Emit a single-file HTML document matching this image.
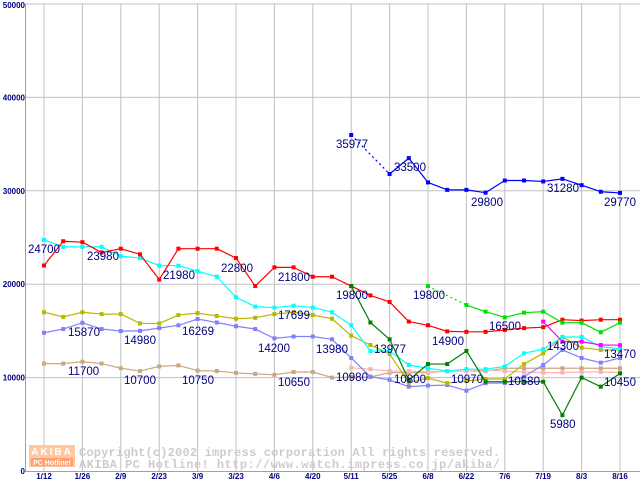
<!DOCTYPE html>
<html><head><meta charset="utf-8"><style>
html,body{margin:0;padding:0;background:#fff;}
svg{display:block;}
</style></head><body>
<svg id="chart" width="640" height="480" viewBox="0 0 640 480" xmlns="http://www.w3.org/2000/svg" font-family="Liberation Sans, sans-serif">
<g id="grid"></g>
<g id="wm">
  <rect x="29" y="445" width="46" height="22" fill="#ffc8a0"/>
  <text x="52" y="455" text-anchor="middle" font-size="10" font-weight="bold" fill="#fff" letter-spacing="2">AKIBA</text>
  <rect x="31" y="458" width="42" height="8" fill="#ffa070"/>
  <text x="52" y="465" text-anchor="middle" font-size="7" font-weight="bold" fill="#fff">PC Hotline!</text>
  <text x="79" y="456" font-family="Liberation Mono, monospace" font-size="12" font-weight="bold" fill="#cccccc" textLength="421" lengthAdjust="spacing">Copyright(c)2002 impress corporation All rights reserved.</text>
  <text x="79" y="468" font-family="Liberation Mono, monospace" font-size="12" font-weight="bold" fill="#cccccc" textLength="421" lengthAdjust="spacing">AKIBA PC Hotline!  http://www.watch.impress.co.jp/akiba/</text>
</g>
<g id="series"></g>
<g id="labels"></g>
</svg>
<script>
const xLabels = ["1/12","1/26","2/9","2/23","3/9","3/23","4/6","4/20","5/11","5/25","6/8","6/22","7/6","7/19","8/3","8/16"];
const yTicks = [0,10000,20000,30000,40000,50000];
const N = 31;
const _ = null;
const redVals = [22000,24600,24500,23400,23800,23200,20500,23800,23800,23800,22800,19800,21800,21800,20800,20800,19800,18800,18100,16000,15600,14950,14900,14900,15100,15300,15400,16200,16100,16200,16200];
const cyanVals = [24750,24000,24000,24000,23000,22800,22000,21980,21400,20800,18600,17600,17500,17700,17500,17000,15600,12850,12850,11350,11000,10700,10900,10900,11200,12600,13050,14350,14350,13300,13100];
const oliveVals = [17000,16500,17000,16800,16800,15800,15800,16700,16900,16600,16300,16400,16800,17000,16700,16300,14490,13490,12530,9450,9950,9400,9640,9850,9850,11450,12600,14350,13200,12960,12960];
const purpleVals = [14800,15200,15870,15200,14980,15000,15300,15600,16269,15900,15500,15200,14200,14400,14400,14100,12100,10100,9750,9030,9140,9200,8600,9400,9420,10100,11350,12960,12100,11600,12100];
const tanVals = [11500,11500,11700,11500,11000,10700,11200,11300,10750,10700,10500,10400,10300,10600,10600,10000,10060,10060,10530,10530,10530,10700,10700,10700,11000,11000,11000,11000,11000,11000,11000];
const pinkVals = [_,_,_,_,_,_,_,_,_,_,_,_,_,_,_,_,11060,10900,10700,10700,10600,10700,10700,10800,10700,10600,10530,10530,10600,10600,10530];
const dgreenVals = [_,_,_,_,_,_,_,_,_,_,_,_,_,_,_,_,19800,15900,14100,9740,11450,11450,12850,9560,9560,9560,9560,5980,10000,9030,10450];
const greenVals = [_,_,_,_,_,_,_,_,_,_,_,_,_,_,_,_,_,_,_,_,19800,_,17770,17060,16450,16950,17060,15880,15880,14850,15880];
const magentaVals = [_,_,_,_,_,_,_,_,_,_,_,_,_,_,_,_,_,_,_,_,_,_,_,_,_,_,15990,13850,13850,13490,13470];
const blueVals = [_,_,_,_,_,_,_,_,_,_,_,_,_,_,_,_,35977,_,31800,33500,30900,30100,30100,29800,31100,31100,31000,31280,30600,29900,29770];
const seriesList = [
 ["tan","#c8a882",tanVals],["pink","#ffb0b0",pinkVals],["purple","#8080ff",purpleVals],["olive","#b8b800",oliveVals],
 ["cyan","#00ffff",cyanVals],["red","#ff0000",redVals],["dark-green","#008000",dgreenVals],["green","#00e000",greenVals],
 ["magenta","#ff00ff",magentaVals],["blue","#0000ff",blueVals]];
const labelTexts = ["24700","23980","21980","22800","21800","15870","14980","16269","17699","14200","11700","10700","10750","10650","35977","33500","29800","31280","29770","19800","19800","13980","10980","13977","10800","14900","10970","16500","10580","14300","13470","10450","5980"];
const labelIdx = [0,2,6,10,12,2,5,8,12,12,2,5,8,12,16,19,23,27,30,16,20,15,16,18,19,21,22,24,25,27,30,30,27];
const labelVals = [24700,23980,21980,22800,21800,15870,14980,16269,17699,14200,11700,10700,10750,10650,35977,33500,29800,31280,29770,19800,19800,13980,10980,13977,10800,14900,10970,16500,10580,14300,13470,10450,5980];
const labelPos = [[28,253],[87,260],[163,279],[221,272],[278,281],[68,336],[124,344],[182,335],[278,319],[258,352],[68,375],[124,384],[182,384],[278,386],[336,148],[394,171],[471,206],[547,192],[604,206],[336,299],[413,299],[316,353],[336,381],[374,353],[394,383],[432,345],[451,383],[489,330],[508,385],[547,350],[604,358],[604,386],[550,428]];

const NS="http://www.w3.org/2000/svg";
const X0=44, DX=(620-44)/30, Y0=471, YS=467/50000;
function xs(i){return X0+i*DX;}
function ys(v){return Y0-v*YS;}
function mk(tag,attrs,parent){const e=document.createElementNS(NS,tag);for(const k in attrs)e.setAttribute(k,attrs[k]);parent.appendChild(e);return e;}
const grid=document.getElementById('grid');
yTicks.forEach(t=>{
  const y=ys(t);
  if(t>0){const l=mk('line',{x1:25,x2:640,y1:y,y2:y,stroke:'#c0c0c0','stroke-width':1},grid);
  
  }
  const tx=mk('text',{x:25,y:t===50000?8:y+3,'text-anchor':'end','font-size':8,'font-weight':'bold',fill:'#000080'},grid);
  
  
  tx.textContent=t;
});
xLabels.forEach((lab,k)=>{
  const x=xs(k*2);
  const l=mk('line',{x1:x,x2:x,y1:4,y2:471,stroke:'#c0c0c0','stroke-width':1},grid);
  
  
  const tx=mk('text',{x:x,y:479,'text-anchor':'middle','font-size':8,'font-weight':'bold',fill:'#000080'},grid);
  
  
  tx.textContent=lab;
});
const ax=mk('path',{d:'M25.5 4V471.5H640',fill:'none',stroke:'#a0a0a0','stroke-width':1},grid);



const sg=document.getElementById('series');
seriesList.forEach(([name,col,vals])=>{
  const g=mk('g',{},sg);
  
  
  let prev=-1;
  for(let i=0;i<N;i++){
    if(vals[i]===null)continue;
    if(prev>=0){
      const l=mk('line',{x1:xs(prev),y1:ys(vals[prev]),x2:xs(i),y2:ys(vals[i]),stroke:col,'stroke-width':1.2},g);
      if(i-prev>1)l.setAttribute('stroke-dasharray','2,3');
      
      
    }
    prev=i;
  }
  for(let i=0;i<N;i++){
    if(vals[i]===null)continue;
    const r=mk('rect',{x:xs(i)-2,y:ys(vals[i])-2,width:4,height:4,fill:col},g);
    
    
  }
});
const lg=document.getElementById('labels');
labelTexts.forEach((t,k)=>{
  const tx=mk('text',{x:labelPos[k][0],y:labelPos[k][1],'font-size':11.5,fill:'#000080'},lg);
  
  
  tx.textContent=t;
});
</script>
</body></html>
